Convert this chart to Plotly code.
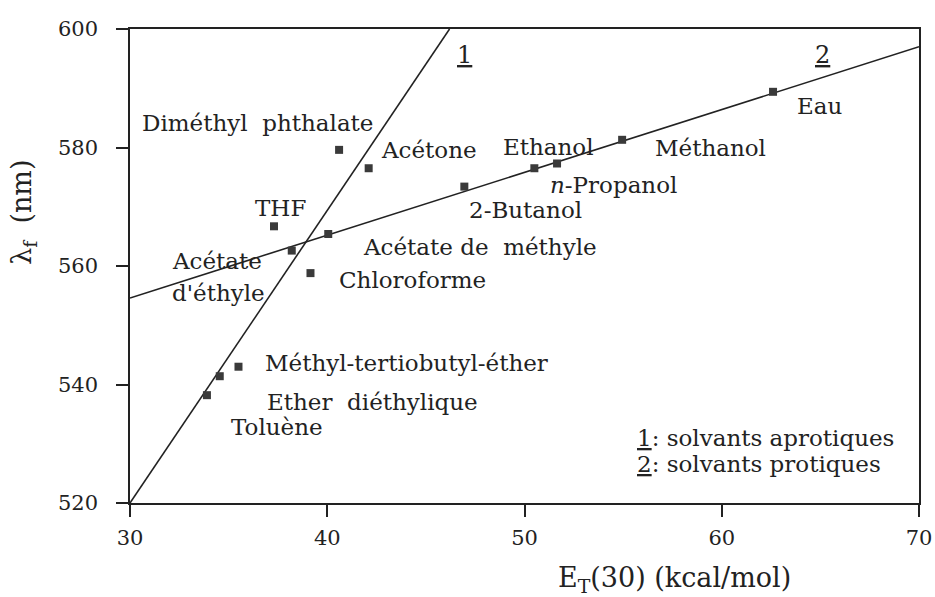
import plotly.graph_objects as go

# Solvent polarity E_T(30) (kcal/mol) versus fluorescence maximum lambda_f (nm)
solvents = ["Toluène", "Ether diéthylique", "Méthyl-tertiobutyl-éther", "THF",
            "Acétate d'éthyle", "Chloroforme", "Acétate de méthyle",
            "Diméthyl phthalate", "Acétone", "2-Butanol", "Ethanol",
            "n-Propanol", "Méthanol", "Eau"]
et30 = [33.9, 34.55, 35.5, 37.3, 38.2, 39.15, 40.05, 40.6, 42.1, 46.95,
        50.5, 51.65, 54.95, 62.6]
lambda_f = [538.2, 541.4, 543.0, 566.7, 562.6, 558.8, 565.4, 579.6, 576.5,
            573.4, 576.5, 577.3, 581.3, 589.4]

# Regression lines: 1 = aprotic solvents, 2 = protic solvents
line1_x = [30.0, 46.2]
line1_y = [520.0, 600.0]
line2_x = [30.0, 70.0]
line2_y = [554.6, 597.0]

# Solvent labels: text, x (left edge), y (middle)
label_text = ["Diméthyl  phthalate", "Acétone", "Ethanol", "Méthanol", "Eau",
              "<i>n</i>-Propanol", "2-Butanol", "THF", "Acétate de  méthyle",
              "Acétate", "d'éthyle", "Chloroforme",
              "Méthyl-tertiobutyl-éther", "Ether  diéthylique", "Toluène"]
label_x = [30.5, 42.6, 48.8, 56.5, 63.7, 51.2, 47.1, 36.25, 41.7,
           32.05, 32.05, 40.5, 36.75, 36.85, 35.0]
label_y = [584.1, 579.6, 580.1, 579.9, 587.0, 573.7, 569.5, 569.8, 563.2,
           560.8, 555.4, 557.6, 543.6, 537.0, 532.8]

x_ticks = [30, 40, 50, 60, 70]
y_ticks = [520, 540, 560, 580, 600]

FONT = "DejaVu Serif"
INK = "#222222"

fig = go.Figure()

fig.add_trace(go.Scatter(x=line1_x, y=line1_y, mode="lines",
                         line=dict(color=INK, width=1.6), hoverinfo="skip"))
fig.add_trace(go.Scatter(x=line2_x, y=line2_y, mode="lines",
                         line=dict(color=INK, width=1.6), hoverinfo="skip"))
fig.add_trace(go.Scatter(x=et30, y=lambda_f, mode="markers", text=solvents,
                         marker=dict(symbol="square", size=8, color="#3a3a3a",
                                     line=dict(width=0))))

annotations = []
for t, x, y in zip(label_text, label_x, label_y):
    annotations.append(dict(x=x, y=y, xref="x", yref="y", text=t,
                            showarrow=False, xanchor="left", yanchor="middle",
                            font=dict(family=FONT, size=23, color=INK)))

# Line identifiers
annotations.append(dict(x=46.95, y=595.6, xref="x", yref="y", text="<u>1</u>",
                        showarrow=False, xanchor="center", yanchor="middle",
                        font=dict(family=FONT, size=24, color=INK)))
annotations.append(dict(x=65.1, y=595.6, xref="x", yref="y", text="<u>2</u>",
                        showarrow=False, xanchor="center", yanchor="middle",
                        font=dict(family=FONT, size=24, color=INK)))

# Key
annotations.append(dict(x=55.6, y=531.0, xref="x", yref="y",
                        text="<u>1</u>: solvants aprotiques",
                        showarrow=False, xanchor="left", yanchor="middle",
                        font=dict(family=FONT, size=23, color=INK)))
annotations.append(dict(x=55.6, y=526.5, xref="x", yref="y",
                        text="<u>2</u>: solvants protiques",
                        showarrow=False, xanchor="left", yanchor="middle",
                        font=dict(family=FONT, size=23, color=INK)))

# Axis titles (paper coordinates are relative to the plotting area)
annotations.append(dict(x=0.69, y=-0.162, xref="paper", yref="paper",
                        text="E<sub>T</sub>(30) (kcal/mol)", showarrow=False,
                        xanchor="center", yanchor="middle",
                        font=dict(family=FONT, size=27, color=INK)))
annotations.append(dict(x=-0.1345, y=0.614, xref="paper", yref="paper",
                        text="λ<sub>f</sub>  (nm)", showarrow=False, textangle=-90,
                        xanchor="center", yanchor="middle",
                        font=dict(family=FONT, size=27, color=INK)))

fig.update_layout(
    width=935, height=597,
    margin=dict(l=130, r=16, t=29, b=94, autoexpand=False),
    paper_bgcolor="white", plot_bgcolor="white",
    showlegend=False,
    annotations=annotations,
    font=dict(family=FONT, color=INK),
    xaxis=dict(range=[30, 70], tickvals=x_ticks, ticks="outside", ticklen=12,
               tickwidth=1.5, tickcolor=INK, showgrid=False, zeroline=False,
               showline=True, linecolor=INK, linewidth=1.5, mirror=True,
               tickfont=dict(family=FONT, size=21, color=INK),
               ticklabelstandoff=3),
    yaxis=dict(range=[520, 600], tickvals=y_ticks, ticks="outside", ticklen=12,
               tickwidth=1.5, tickcolor=INK, showgrid=False, zeroline=False,
               showline=True, linecolor=INK, linewidth=1.5, mirror=True,
               tickfont=dict(family=FONT, size=21, color=INK),
               ticklabelstandoff=14),
)

fig.write_html("out.html")
